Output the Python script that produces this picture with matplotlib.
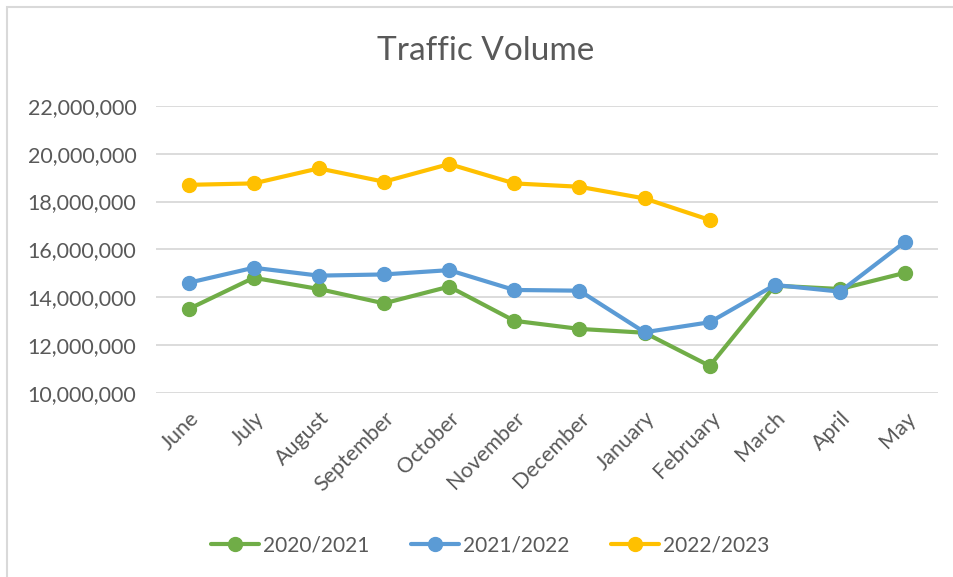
'''
Traffic volume per month, three seasons
'''
import matplotlib.pyplot as plt
from matplotlib.patches import Rectangle
from matplotlib.ticker import FuncFormatter

months = ['June', 'July', 'August', 'September', 'October', 'November',
          'December', 'January', 'February', 'March', 'April', 'May']

# values
vol_2020_2021 = [13.50e6, 14.81e6, 14.34e6, 13.74e6, 14.44e6, 13.01e6,
                 12.67e6, 12.51e6, 11.12e6, 14.48e6, 14.34e6, 15.02e6]
vol_2021_2022 = [14.60e6, 15.23e6, 14.90e6, 14.95e6, 15.13e6, 14.30e6,
                 14.27e6, 12.53e6, 12.95e6, 14.51e6, 14.23e6, 16.32e6]
vol_2022_2023 = [18.70e6, 18.76e6, 19.39e6, 18.83e6, 19.57e6, 18.76e6,
                 18.62e6, 18.13e6, 17.23e6]

series = [
    ('2020/2021', vol_2020_2021, '#70AD47'),
    ('2021/2022', vol_2021_2022, '#5B9BD5'),
    ('2022/2023', vol_2022_2023, '#FFC000'),
]

TXT = '#595959'
plt.rcParams['font.family'] = ['Lato', 'DejaVu Sans']

fig = plt.figure(figsize=(9.54, 5.77), dpi=100)
ax = fig.add_axes([0.1635, 0.3194, 0.8195, 0.4969])

x = list(range(len(months)))
for name, vals, col in series:
    ax.plot(x[:len(vals)], vals, color=col, lw=3.0, marker='o',
            markersize=10, label=name, solid_capstyle='round')

ax.set_xlim(-0.5, len(months) - 0.5)
ax.set_ylim(10e6, 22e6)
ax.set_yticks(range(10_000_000, 22_000_001, 2_000_000))
ax.yaxis.set_major_formatter(FuncFormatter(lambda v, p: f'{int(v):,}'))
ax.set_xticks(x)
ax.set_xticklabels(months, rotation=45, ha='right', rotation_mode='anchor')

ax.grid(axis='y', color='#D9D9D9', lw=1.3)
ax.set_axisbelow(True)
for s in ax.spines.values():
    s.set_visible(False)
ax.tick_params(length=0, colors=TXT, labelsize=15.5)
ax.tick_params(axis='y', pad=14)
ax.tick_params(axis='x', pad=11)

fig.text(0.509, 0.912, 'Traffic Volume', ha='center', va='center',
         fontsize=24, color=TXT)

leg = fig.legend(loc='center', bbox_to_anchor=(0.514, 0.055), ncol=3,
                 frameon=False, fontsize=15, handlelength=2.3,
                 columnspacing=2.0, handletextpad=0.2)
for t in leg.get_texts():
    t.set_color(TXT)

# chart frame (only top and left edges are visible in the image)
fig.patches.append(Rectangle((7 / 954, -0.1), 1.2, 1.1 - 7.5 / 577,
                             transform=fig.transFigure, fill=False,
                             edgecolor='#D9D9D9', lw=1.5))

fig.savefig('out.png', dpi=100)
